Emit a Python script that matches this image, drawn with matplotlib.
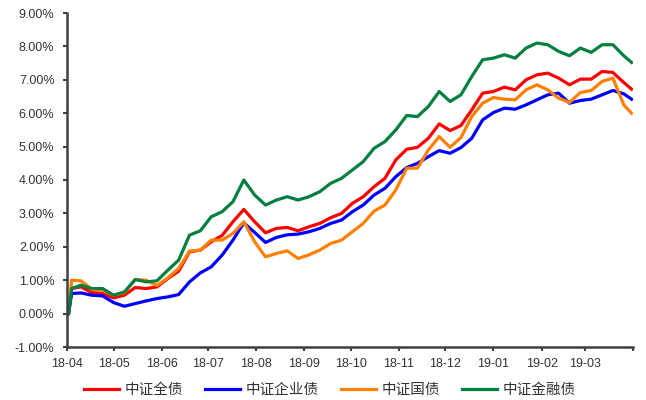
"""
plot.py
─────────────────────────────────────────────────────────────────────────────
Cumulative return of four ChinaBond-style indices (中证全债 / 中证企业债 /
中证国债 / 中证金融债) from April 2018 to March 2019, weekly readings.
Saves out.png (646x400).
─────────────────────────────────────────────────────────────────────────────
"""

import numpy as np
import pandas as pd
import matplotlib
matplotlib.use("Agg")
import matplotlib.pyplot as plt
import matplotlib.dates as mdates
from matplotlib.ticker import FuncFormatter, FixedLocator

plt.rcParams['font.family'] = ['Liberation Sans', 'Noto Sans CJK SC', 'DejaVu Sans']

# ── Data (cumulative return, %) ───────────────────────────────────────────────
dates = (pd.to_datetime(['2018-04-02', '2018-04-04'])
         .append(pd.date_range('2018-04-10', '2019-03-26', freq='7D'))
         .append(pd.to_datetime(['2019-03-31'])))

names = ['中证全债', '中证企业债', '中证国债', '中证金融债']

full_bond = [0.0, 0.75, 0.8, 0.63, 0.6, 0.47, 0.55, 0.78, 0.75, 0.8,
             1.05, 1.27, 1.85, 1.9, 2.15, 2.34, 2.75, 3.12, 2.75, 2.42,
             2.55, 2.58, 2.48, 2.6, 2.7, 2.87, 3.0, 3.3, 3.5, 3.8,
             4.05, 4.6, 4.92, 4.98, 5.25, 5.68, 5.48, 5.63, 6.1, 6.6,
             6.65, 6.78, 6.7, 7.0, 7.15, 7.2, 7.05, 6.85, 7.02, 7.02,
             7.25, 7.22, 6.92, 6.72]

corp_bond = [0.0, 0.6, 0.62, 0.55, 0.53, 0.33, 0.22, 0.3, 0.38, 0.45,
             0.5, 0.57, 0.95, 1.22, 1.4, 1.75, 2.2, 2.72, 2.43, 2.13,
             2.28, 2.36, 2.38, 2.45, 2.55, 2.7, 2.8, 3.05, 3.25, 3.55,
             3.75, 4.1, 4.37, 4.5, 4.7, 4.88, 4.8, 4.97, 5.25, 5.8,
             6.02, 6.15, 6.12, 6.25, 6.4, 6.55, 6.6, 6.3, 6.38, 6.42,
             6.55, 6.68, 6.58, 6.42]

govt_bond = [0.0, 1.0, 0.98, 0.73, 0.7, 0.55, 0.63, 1.02, 1.0, 0.84,
             1.07, 1.35, 1.87, 1.9, 2.2, 2.2, 2.4, 2.75, 2.15, 1.7,
             1.8, 1.88, 1.65, 1.76, 1.9, 2.1, 2.2, 2.45, 2.7, 3.07,
             3.25, 3.7, 4.35, 4.36, 4.9, 5.3, 4.98, 5.27, 5.9, 6.3,
             6.47, 6.42, 6.4, 6.7, 6.85, 6.7, 6.45, 6.32, 6.62, 6.68,
             6.95, 7.05, 6.25, 6.0]

fin_bond = [0.0, 0.75, 0.85, 0.75, 0.75, 0.55, 0.65, 1.02, 0.95, 0.98,
            1.3, 1.6, 2.35, 2.48, 2.9, 3.05, 3.35, 4.0, 3.55, 3.25,
            3.4, 3.5, 3.4, 3.5, 3.65, 3.9, 4.05, 4.3, 4.55, 4.95,
            5.15, 5.5, 5.93, 5.9, 6.2, 6.65, 6.35, 6.55, 7.1, 7.6,
            7.65, 7.75, 7.65, 7.95, 8.1, 8.05, 7.85, 7.72, 7.95, 7.82,
            8.05, 8.05, 7.72, 7.52]

colors = ['#FF0000', '#0000FF', '#FF8000', '#008040']

y_ticks = np.arange(-1, 10, 1)
month_ticks = pd.date_range('2018-04-01', '2019-04-01', freq='MS')

# ── Figure ────────────────────────────────────────────────────────────────────
fig = plt.figure(figsize=(6.46, 4.0), dpi=100)
ax = fig.add_axes([0.1037, 0.1325, 0.8763, 0.835])

for series, name, color in zip([full_bond, corp_bond, govt_bond, fin_bond],
                               names, colors):
    ax.plot(dates, series, color=color, lw=2.3, label=name,
            solid_joinstyle='round')

axis_grey = '#404040'
ax.set_xlim(month_ticks[0], month_ticks[-1])
ax.set_ylim(-1, 9)
ax.set_yticks(y_ticks)
ax.yaxis.set_major_formatter(FuncFormatter(lambda v, _: f"{v:.2f}%"))

ax.xaxis.set_major_locator(FixedLocator(mdates.date2num(month_ticks)))
tick_labels = [d.strftime('%y-%m') for d in month_ticks[:-1]] + ['']
ax.set_xticklabels(tick_labels)

for side in ['top', 'right']:
    ax.spines[side].set_visible(False)
for side in ['left', 'bottom']:
    ax.spines[side].set_color(axis_grey)
    ax.spines[side].set_linewidth(1.8)

ax.tick_params(axis='both', direction='out', length=3, width=1.5,
               color=axis_grey, labelcolor='#333333', labelsize=9)
ax.tick_params(axis='y', pad=6)
ax.tick_params(axis='x', pad=5)

fig.legend(loc='center', bbox_to_anchor=(330 / 646, 0.025), ncol=4,
           frameon=False, fontsize=10.5, handlelength=2.4, handletextpad=0.4,
           columnspacing=1.5, labelcolor='#333333')

fig.savefig('out.png', dpi=100)
plt.close(fig)
